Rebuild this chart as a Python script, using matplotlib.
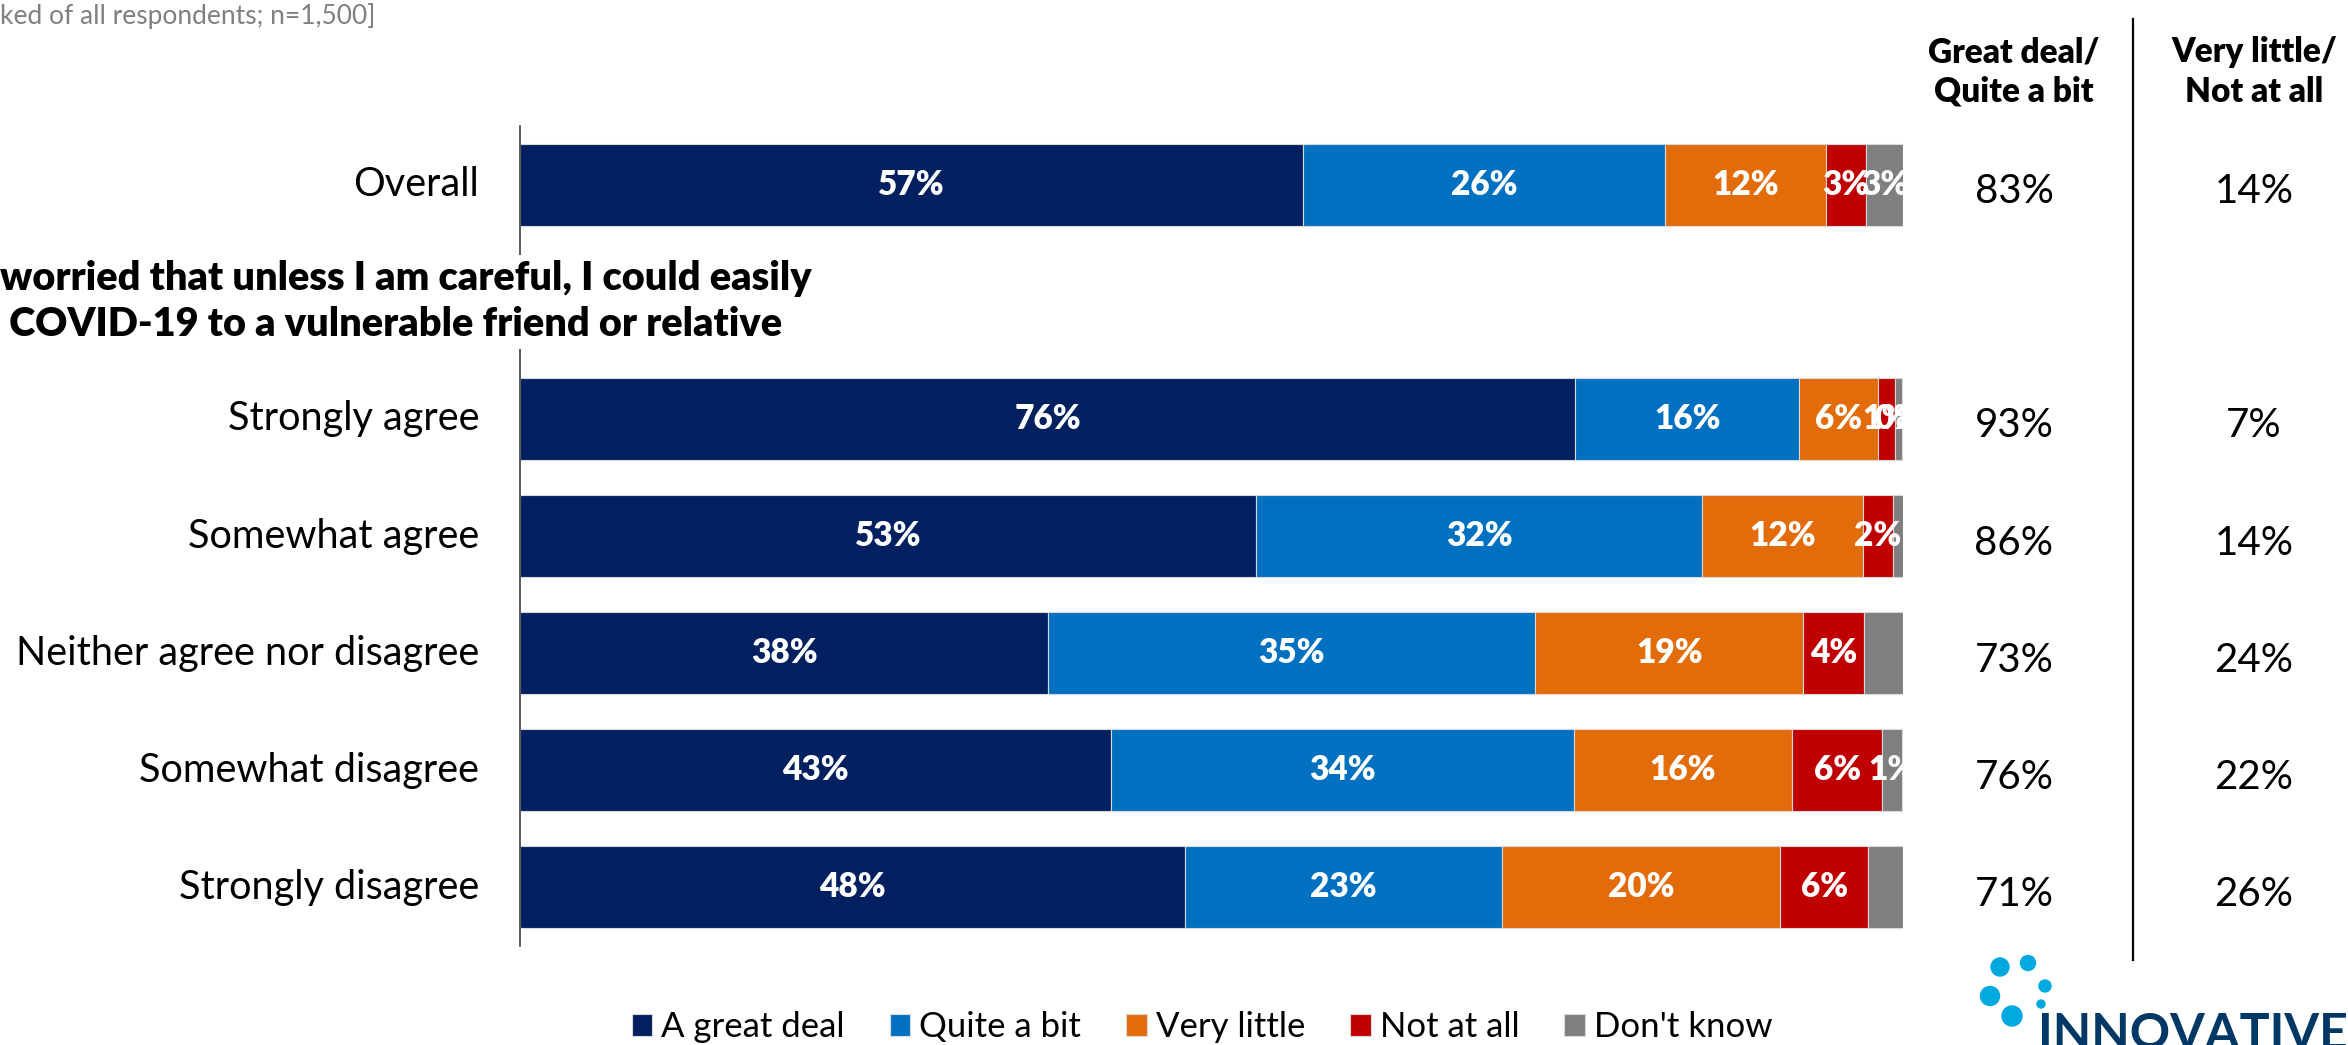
import numpy as np
import matplotlib

matplotlib.use('Agg')
import matplotlib.pyplot as plt
from matplotlib.patches import Circle
from matplotlib.transforms import blended_transform_factory

plt.rcParams['font.family'] = ['Lato', 'DejaVu Sans']

nan = np.nan
rows = ['Overall', '', 'Strongly agree', 'Somewhat agree', 'Neither agree nor disagree',
        'Somewhat disagree', 'Strongly disagree']
series = ['A great deal', 'Quite a bit', 'Very little', 'Not at all', "Don't know"]
colors = ['#002060', '#0070C0', '#E36C0A', '#C00000', '#7F7F7F']

great_deal = [56.6, nan, 76.3, 53.2, 38.2, 42.7, 48.1]
quite_a_bit = [26.2, nan, 16.2, 32.3, 35.2, 33.5, 22.9]
very_little = [11.6, nan, 5.7, 11.6, 19.4, 15.8, 20.1]
not_at_all = [2.9, nan, 1.2, 2.2, 4.4, 6.5, 6.4]
dont_know = [2.7, nan, 0.5, 0.8, 2.8, 1.4, 2.5]

# which segments carry a percentage label
show_great = [1, 0, 1, 1, 1, 1, 1]
show_quite = [1, 0, 1, 1, 1, 1, 1]
show_little = [1, 0, 1, 1, 1, 1, 1]
show_notall = [1, 0, 1, 1, 1, 1, 1]
show_dk = [1, 0, 1, 0, 0, 1, 0]

top2 = [83, None, 93, 86, 73, 76, 71]
bottom2 = [14, None, 7, 14, 24, 22, 26]

heading = 'worried that unless I am careful, I could easily\n COVID-19 to a vulnerable friend or relative'
subtitle = 'ked of all respondents; n=1,500]'

W, H = 2348, 1045
fig = plt.figure(figsize=(W / 100, H / 100), dpi=100)
ax = fig.add_axes([520 / W, 1 - 946 / H, 1383 / W, 820 / H])

vals = [great_deal, quite_a_bit, very_little, not_at_all, dont_know]
shows = [show_great, show_quite, show_little, show_notall, show_dk]
y = np.arange(len(rows))
left = np.zeros(len(rows))
for name, v, c, sh in zip(series, vals, colors, shows):
    v = np.array(v, dtype=float)
    ax.barh(y, np.nan_to_num(v), left=left, height=0.70, color=c, label=name,
            edgecolor='#d9d9d9', linewidth=0.8)
    for i in range(len(rows)):
        if sh[i] and not np.isnan(v[i]):
            ax.text(left[i] + v[i] / 2, y[i], f'{v[i]:.0f}%', ha='center', va='center',
                    color='white', fontsize=24, fontweight='heavy', clip_on=True)
    left += np.nan_to_num(v)

ax.set_xlim(0, 100)
ax.set_ylim(len(rows) - 0.5, -0.5)
ax.set_xticks([])
ax.set_yticks([])
for s in ['top', 'right', 'bottom']:
    ax.spines[s].set_visible(False)
ax.spines['left'].set_color('#404040')
ax.spines['left'].set_linewidth(1.2)

tr = blended_transform_factory(fig.transFigure, ax.transData)
for i, r in enumerate(rows):
    if r:
        ax.text(479 / W, i, r, transform=tr, ha='right', va='center', fontsize=28.5, color='black')
    if top2[i] is not None:
        ax.text(2014 / W, i + 0.06, f'{top2[i]}%', transform=tr, ha='center', va='center',
                fontsize=29, color='black')
        ax.text(2254 / W, i + 0.06, f'{bottom2[i]}%', transform=tr, ha='center', va='center',
                fontsize=29, color='black')

ax.text(0, 1, heading, transform=tr, ha='left', va='center', fontsize=28.5,
        fontweight='heavy', linespacing=1.3, zorder=5,
        bbox=dict(facecolor='white', edgecolor='none', pad=4))

# headers and separator
fig.text(2014 / W, 1 - 72 / H, 'Great deal/\nQuite a bit', ha='center', va='center',
         fontsize=24, fontweight='heavy', linespacing=1.3)
fig.text(2254 / W, 1 - 72 / H, 'Very little/\nNot at all', ha='center', va='center',
         fontsize=24, fontweight='heavy', linespacing=1.3)
fig.add_artist(plt.Line2D([2133 / W, 2133 / W], [1 - 19 / H, 1 - 960 / H], color='black', lw=1.6))
fig.text(0, 1 - 16 / H, subtitle, ha='left', va='center', fontsize=19, color='#808080')

ax.legend(loc='center', bbox_to_anchor=(1202 / W, 1 - 1027 / H), bbox_transform=fig.transFigure,
          ncol=5, frameon=False, fontsize=25, handlelength=0.6, handleheight=0.6,
          handletextpad=0.25, columnspacing=1.3, borderaxespad=0)

# logo
lax = fig.add_axes([0, 0, 1, 1])
lax.set_xlim(0, W)
lax.set_ylim(H, 0)
lax.axis('off')
for cx, cy, rr in [(2000, 967, 9), (2028, 963, 7.5), (2045, 986, 6), (1990, 996, 9.5),
                   (2041, 1004, 4), (2012, 1016, 10)]:
    lax.add_patch(Circle((cx, cy), rr, color='#00A9E0'))
lax.text(2038, 1012, 'INNOVATIVE', ha='left', va='top', fontsize=36, fontweight='bold',
         color='#003865')

fig.savefig('out.png', dpi=100)
